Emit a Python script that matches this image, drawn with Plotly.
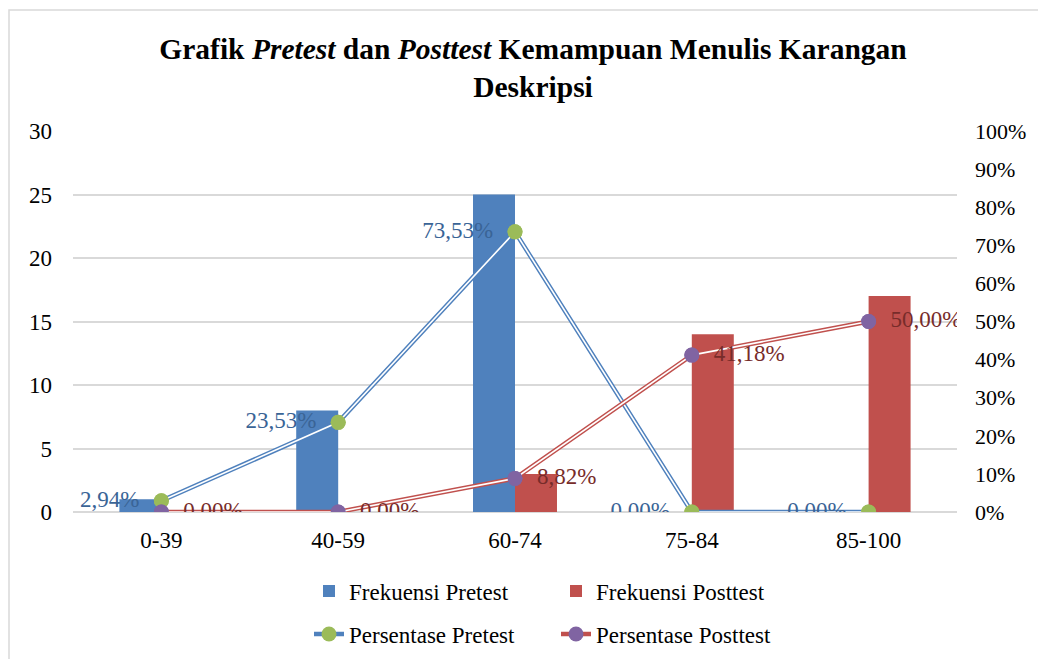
import plotly.graph_objects as go

categories = ["0-39", "40-59", "60-74", "75-84", "85-100"]
frek_pretest = [1, 8, 25, 0, 0]
frek_posttest = [0, 0, 3, 14, 17]
pers_pretest = [2.94, 23.53, 73.53, 0.00, 0.00]
pers_posttest = [0.00, 0.00, 8.82, 41.18, 50.00]

NB = "\u00a0\u00a0"

def fmt(v):
    return f"{v:.2f}".replace(".", ",") + "%"

FONT = "'Liberation Serif', 'Times New Roman', serif"
BLUE = "#4F81BD"
RED = "#C0504D"
GREEN = "#9BBB59"
PURPLE = "#8064A2"
BLUE_TXT = "#3A6496"
RED_TXT = "#772C2A"

# page -> paper helpers (page has an 8px body offset)
PX0, PX1, PY0, PY1 = 73, 957, 512, 131
def px(x):
    return (x - PX0) / (PX1 - PX0)
def py(y):
    return (PY0 - y) / (PY0 - PY1)

fig = go.Figure()
fig.add_trace(go.Bar(x=categories, y=frek_pretest, name="Frekuensi Pretest",
                     marker=dict(color=BLUE, line=dict(width=0)), legend="legend"))
fig.add_trace(go.Bar(x=categories, y=frek_posttest, name="Frekuensi Posttest",
                     marker=dict(color=RED, line=dict(width=0)), legend="legend"))

for vals, col, mcol, tcol, pos, name, left in [
    (pers_pretest, BLUE, GREEN, BLUE_TXT, "middle left", "Persentase Pretest", True),
    (pers_posttest, RED, PURPLE, RED_TXT, "middle right", "Persentase Posttest", False),
]:
    labels = [(fmt(v) + NB) if left else (NB + fmt(v)) for v in vals]
    fig.add_trace(go.Scatter(x=categories, y=vals, yaxis="y2", mode="lines+markers",
                             name=name, line=dict(color=col, width=4.5),
                             marker=dict(color=mcol, size=15), legend="legend2"))
    fig.add_trace(go.Scatter(x=categories, y=vals, yaxis="y2", mode="lines",
                             showlegend=False, hoverinfo="skip",
                             line=dict(color="white", width=1.6)))
    fig.add_trace(go.Scatter(x=categories, y=vals, yaxis="y2", mode="markers+text",
                             showlegend=False, marker=dict(color=mcol, size=15),
                             text=labels, textposition=pos,
                             textfont=dict(family=FONT, size=23, color=tcol)))

fig.update_layout(
    width=1046, height=659,
    margin=dict(l=PX0 - 8, r=1046 - (PX1 - 8), t=PY1 - 8, b=659 - (PY0 - 8)),
    paper_bgcolor="white", plot_bgcolor="white",
    font=dict(family=FONT, size=22, color="#000000"),
    title=dict(text="Grafik <i>Pretest</i> dan <i>Posttest</i> Kemampuan Menulis Karangan<br>Deskripsi",
               x=(533 - 8) / 1046, xref="container", xanchor="center",
               y=1 - 51 / 659, yref="container", yanchor="top",
               font=dict(family=FONT, size=29.5, color="#000000", weight="bold")),
    barmode="group", bargap=0.525, bargroupgap=0,
    xaxis=dict(showgrid=False, ticks="", tickfont=dict(family=FONT, size=23), showline=False,
               ticklabelstandoff=12),
    yaxis=dict(range=[0, 30], dtick=5, showgrid=True, gridcolor="#D9D9D9", gridwidth=1.5,
               zeroline=True, zerolinecolor="#D9D9D9", zerolinewidth=1.5,
               tickfont=dict(family=FONT, size=23), ticks="", ticklabelstandoff=20),
    yaxis2=dict(range=[0, 100], dtick=10, ticksuffix="%", overlaying="y", side="right",
                showgrid=False, zeroline=False, tickfont=dict(family=FONT, size=22), ticks="",
                ticklabelstandoff=17),
    legend=dict(orientation="h", x=px(309), xanchor="left", y=py(591), yanchor="middle",
                font=dict(family=FONT, size=23), entrywidth=202, traceorder="normal"),
    legend2=dict(orientation="h", x=px(309), xanchor="left", y=py(634), yanchor="middle",
                 font=dict(family=FONT, size=23), entrywidth=202, traceorder="normal"),
    shapes=[dict(type="rect", xref="paper", yref="paper", x0=px(9), x1=1.3,
                 y0=-0.6, y1=py(10), line=dict(color="#D9D9D9", width=1.5),
                 fillcolor="rgba(0,0,0,0)", layer="below")],
    showlegend=True,
)

fig.write_html("out.html")
